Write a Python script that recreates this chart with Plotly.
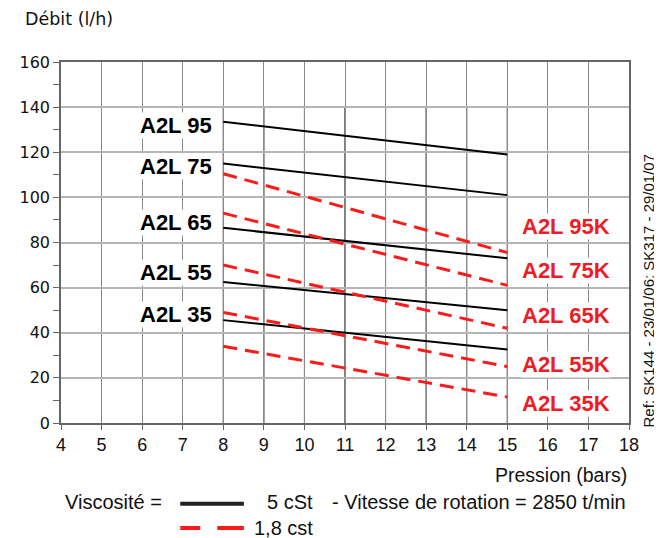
import plotly.graph_objects as go

# ---- data ----
pressure = [8, 15]
black_names = ["A2L 95", "A2L 75", "A2L 65", "A2L 55", "A2L 35"]
black_vals = [[133.5, 119], [115, 101], [86.5, 73], [62.5, 50], [45.6, 32.6]]
red_names = ["A2L 95K", "A2L 75K", "A2L 65K", "A2L 55K", "A2L 35K"]
red_vals = [[110.5, 75.5], [93, 61], [70, 42], [49, 25], [34, 11.5]]
x_ticks = list(range(4, 19))
y_ticks = list(range(0, 161, 20))

# label placements (layout)
black_label_y = [132, 113.5, 89, 66.5, 48]
red_label_y = [87, 67.5, 47.5, 26, 8.5]

FONT = "Liberation Sans, Arial, sans-serif"
NARROW = "Liberation Sans Narrow, Arial Narrow, Liberation Sans, sans-serif"
WIDE = "DejaVu Sans, Liberation Sans, sans-serif"
fig = go.Figure()

for name, v in zip(black_names, black_vals):
    fig.add_trace(go.Scatter(x=pressure, y=v, mode="lines", name=name,
                             line=dict(color="black", width=2), showlegend=False))
for name, v in zip(red_names, red_vals):
    fig.add_trace(go.Scatter(x=pressure, y=v, mode="lines", name=name,
                             line=dict(color="#ff1a1a", width=3, dash="14px,8px"), showlegend=False))

shapes = []
# darker sub-grid over the curve region
for xv in range(pressure[0], pressure[1] + 1):
    shapes.append(dict(type="line", xref="x", yref="y", x0=xv, x1=xv, y0=0, y1=140,
                       line=dict(color="black", width=1), layer="below"))

# legend symbols
shapes.append(dict(type="line", xref="paper", yref="paper", x0=0.210, x1=0.322, y0=-0.224, y1=-0.224,
                   line=dict(color="#222", width=4)))
shapes.append(dict(type="line", xref="paper", yref="paper", x0=0.210, x1=0.322, y0=-0.291, y1=-0.291,
                   line=dict(color="#ff1a1a", width=4, dash="20px,17px,30px,10px")))

ann = []
for name, y in zip(black_names, black_label_y):
    ann.append(dict(x=pressure[0], y=y, xref="x", yref="y", text="<b>%s</b>" % name, showarrow=False,
                    xanchor="right", yanchor="middle", xshift=-10, bgcolor="white", borderpad=0,
                    font=dict(family=FONT, size=22, color="black")))
for name, y in zip(red_names, red_label_y):
    ann.append(dict(x=16.45, y=y, xref="x", yref="y", text="<b>%s</b>" % name, showarrow=False,
                    xanchor="center", yanchor="middle", bgcolor="white", borderpad=0,
                    font=dict(family=FONT, size=22, color="#ee1c25")))

ann += [
    dict(x=-0.067, y=1.119, xref="paper", yref="paper", text="Débit (l/h)", showarrow=False,
         xanchor="left", yanchor="middle", font=dict(family=WIDE, size=17.5, color="#111")),
    dict(x=1.0, y=-0.144, xref="paper", yref="paper", text="Pression (bars)", showarrow=False,
         xanchor="right", yanchor="middle", font=dict(family=FONT, size=19.5, color="#111")),
    dict(x=0.182, y=-0.219, xref="paper", yref="paper", text="Viscosité =", showarrow=False,
         xanchor="right", yanchor="middle", font=dict(family=FONT, size=20, color="#111")),
    dict(x=0.447, y=-0.219, xref="paper", yref="paper", text="5 cSt", showarrow=False,
         xanchor="right", yanchor="middle", font=dict(family=FONT, size=20, color="#111")),
    dict(x=0.998, y=-0.219, xref="paper", yref="paper", text="- Vitesse de rotation = 2850 t/min", showarrow=False,
         xanchor="right", yanchor="middle", font=dict(family=FONT, size=20, color="#111")),
    dict(x=0.336, y=-0.291, xref="paper", yref="paper", text="1,8 cst", showarrow=False,
         xanchor="left", yanchor="middle", font=dict(family=FONT, size=20, color="#111")),
    dict(x=1.034, y=0.368, xref="paper", yref="paper", text="Ref: SK144 - 23/01/06; SK317 - 29/01/07",
         showarrow=False, textangle=-90, xanchor="center", yanchor="middle",
         font=dict(family=FONT, size=15, color="#111")),
]

fig.update_layout(
    width=654, height=530,
    margin=dict(l=50, r=33, t=54, b=115),
    paper_bgcolor="white", plot_bgcolor="white",
    shapes=shapes, annotations=ann, showlegend=False,
    xaxis=dict(range=[4, 18], tickvals=x_ticks, ticktext=[str(t) for t in x_ticks],
               showgrid=True, gridcolor="#8a8a8a", gridwidth=1, zeroline=False,
               showline=True, linecolor="#666", linewidth=1.5, mirror=True,
               ticks="outside", ticklen=5, tickcolor="#666",
               tickfont=dict(family=NARROW, size=18, color="#111")),
    yaxis=dict(range=[0, 160], tickvals=y_ticks, ticktext=[str(t) for t in y_ticks],
               showgrid=True, gridcolor="#b5b5b5", gridwidth=1.5, zeroline=False,
               showline=True, linecolor="#666", linewidth=1.5, mirror=True,
               ticks="outside", ticklen=6, tickcolor="#666",
               minor=dict(dtick=10, ticks="outside", ticklen=6, tickcolor="#666", showgrid=False),
               tickfont=dict(family=WIDE, size=16, color="#111")),
)

fig.write_html("out.html")
